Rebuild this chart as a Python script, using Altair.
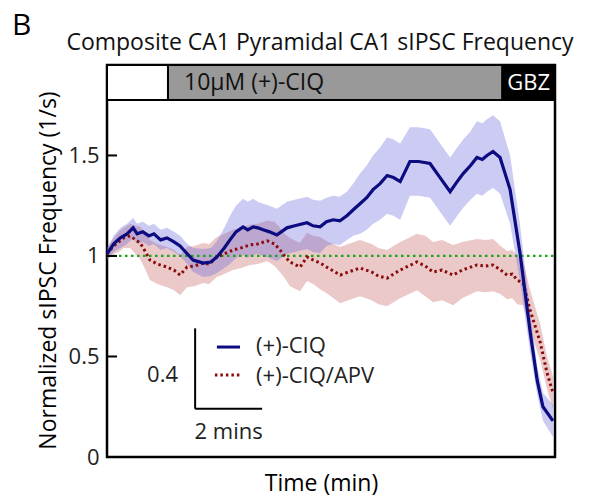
import altair as alt
import pandas as pd

FONT = "Open Sans"

# ---- data ----
ciq_t = [0.0, 0.2, 0.4, 0.6, 0.78, 0.9, 1.07, 1.25, 1.4, 1.6, 1.79, 2.0, 2.18, 2.4, 2.57, 2.87,
         3.1, 3.28, 3.5, 3.67, 3.85, 4.06, 4.2, 4.36, 4.5, 4.66, 4.85, 5.07, 5.2, 5.37, 5.6,
         5.97, 6.15, 6.36, 6.55, 6.75, 6.95, 7.16, 7.35, 7.55, 7.75, 7.94, 8.15, 8.36, 8.55,
         8.75, 9.04, 9.3, 9.64, 9.94, 10.24, 10.45, 10.63, 10.85, 11.04, 11.2, 11.34, 11.52,
         11.73, 12.03, 12.33, 12.63, 12.84, 13.01, 13.31]
ciq_v = [1.01, 1.06, 1.09, 1.11, 1.14, 1.11, 1.12, 1.10, 1.11, 1.08, 1.09, 1.07, 1.05, 1.01, 0.98,
         0.965, 0.97, 0.995, 1.04, 1.08, 1.12, 1.145, 1.13, 1.145, 1.14, 1.13, 1.12, 1.105, 1.12,
         1.14, 1.15, 1.165, 1.15, 1.145, 1.17, 1.18, 1.175, 1.20, 1.23, 1.26, 1.29, 1.33, 1.36,
         1.40, 1.39, 1.37, 1.47, 1.47, 1.46, 1.39, 1.32, 1.37, 1.41, 1.45, 1.49, 1.48, 1.50,
         1.52, 1.49, 1.33, 1.01, 0.62, 0.38, 0.25, 0.18]
ciq_e = [0.03, 0.04, 0.05, 0.05, 0.05, 0.05, 0.05, 0.05, 0.05, 0.05, 0.05, 0.05, 0.05, 0.05,
         0.06, 0.07, 0.07, 0.08, 0.1, 0.12, 0.13, 0.14, 0.14, 0.14, 0.13, 0.13, 0.13, 0.13,
         0.13, 0.13, 0.13, 0.13, 0.13, 0.13, 0.12, 0.12, 0.12, 0.12, 0.13, 0.15, 0.16, 0.17,
         0.18, 0.19, 0.19, 0.19, 0.17, 0.17, 0.17, 0.17, 0.17, 0.17, 0.17, 0.17, 0.18, 0.18,
         0.18, 0.18, 0.18, 0.17, 0.14, 0.10, 0.07, 0.07, 0.08]

apv_t = [0.0, 0.2, 0.35, 0.5, 0.69, 0.85, 0.99, 1.15, 1.28, 1.5, 1.79, 2.0, 2.18, 2.39, 2.6,
         2.87, 3.05, 3.28, 3.5, 3.76, 4.0, 4.27, 4.5, 4.78, 5.0, 5.16, 5.3, 5.46, 5.76, 5.97,
         6.15, 6.36, 6.6, 6.96, 7.2, 7.55, 7.9, 8.1, 8.36, 8.55, 8.75, 9.0, 9.25, 9.5, 9.73,
         10.0, 10.33, 10.6, 11.04, 11.3, 11.52, 11.75, 11.94, 12.1, 12.24, 12.42, 12.63,
         12.93, 13.13, 13.31]
apv_v = [1.01, 1.05, 1.07, 1.09, 1.10, 1.08, 1.065, 1.02, 0.98, 0.96, 0.945, 0.93, 0.905, 0.945,
         0.95, 0.965, 0.96, 0.995, 1.01, 1.03, 1.04, 1.055, 1.06, 1.075, 1.06, 1.03, 1.0, 0.97,
         0.945, 0.995, 0.98, 0.965, 0.94, 0.905, 0.92, 0.94, 0.92, 0.90, 0.89, 0.91, 0.93,
         0.95, 0.97, 0.95, 0.92, 0.93, 0.905, 0.93, 0.955, 0.95, 0.955, 0.93, 0.905, 0.91, 0.88,
         0.865, 0.73, 0.57, 0.42, 0.32]
apv_e = [0.03, 0.04, 0.05, 0.05, 0.06, 0.07, 0.08, 0.09, 0.1, 0.1, 0.1, 0.1, 0.1, 0.1, 0.1,
         0.1, 0.1, 0.1, 0.1, 0.1, 0.1, 0.1, 0.1, 0.1, 0.11, 0.11, 0.11, 0.12, 0.12, 0.12, 0.12,
         0.13, 0.13, 0.14, 0.14, 0.14, 0.14, 0.14, 0.14, 0.14, 0.14, 0.14, 0.14, 0.15, 0.15,
         0.15, 0.15, 0.14, 0.13, 0.13, 0.13, 0.12, 0.12, 0.12, 0.12, 0.11, 0.1, 0.09, 0.08, 0.08]

y_ticks = [0, 0.5, 1, 1.5]

bar_labels = ["", "10μM (+)-CIQ", "GBZ"]
bar_start = [0.0, 1.82, 11.8]
bar_end = [1.82, 11.8, 13.37]
bar_fill = ["white", "#999999", "black"]

series_names = ["(+)-CIQ", "(+)-CIQ/APV"]
title_text = "Composite CA1 Pyramidal CA1 sIPSC Frequency"
panel_letter = "B"

X_DOMAIN = [0, 13.37]
Y_DOMAIN = [0, 1.95]
BAR_LO, BAR_HI = 1.776, 1.95

ciq = pd.DataFrame({"t": ciq_t, "v": ciq_v, "e": ciq_e})
ciq["lo"] = ciq["v"] - ciq["e"]
ciq["hi"] = ciq["v"] + ciq["e"]
apv = pd.DataFrame({"t": apv_t, "v": apv_v, "e": apv_e})
apv["lo"] = apv["v"] - apv["e"]
apv["hi"] = apv["v"] + apv["e"]

xs = alt.Scale(domain=X_DOMAIN, nice=False, zero=False)
ys = alt.Scale(domain=Y_DOMAIN, nice=False, zero=False)

X = alt.X("t:Q", scale=xs, axis=alt.Axis(title="Time (min)", labels=False, ticks=False,
                                           domain=False, grid=False, titleFont=FONT,
                                           titleFontSize=23, titleFontWeight="normal",
                                           titleColor="black", titleY=26, titleX=214,
                                           titleAlign="center", titleBaseline="middle"))
Y = alt.Y("v:Q", scale=ys, axis=alt.Axis(title="Normalized sIPSC Frequency (1/s)",
                                           values=y_ticks, format="~g", ticks=False,
                                           domain=False, grid=False, labelFont=FONT,
                                           labelFontSize=22, labelColor="#222", labelPadding=8,
                                           titleFont=FONT, titleFontSize=23,
                                           titleFontWeight="normal", titleColor="black",
                                           titleX=-59, titleY=205, titleAngle=270,
                                           titleAlign="center", titleBaseline="middle"))

base_ciq = alt.Chart(ciq)
base_apv = alt.Chart(apv)

apv_band = base_apv.mark_area(color="#c25b5b", opacity=0.33).encode(
    x=alt.X("t:Q", scale=xs), y=alt.Y("lo:Q", scale=ys), y2="hi:Q")
ciq_band = base_ciq.mark_area(color="#6262dc", opacity=0.33).encode(
    x=alt.X("t:Q", scale=xs), y=alt.Y("lo:Q", scale=ys), y2="hi:Q")

green = alt.Chart(pd.DataFrame({"y": [1.0]})).mark_rule(
    color="#1aa61a", strokeWidth=2.2, strokeDash=[2.5, 3.5]).encode(
    y=alt.Y("y:Q", scale=ys), x=alt.value(0), x2=alt.value(448))

apv_line = base_apv.mark_line(color="#8b0a0a", strokeWidth=3, strokeDash=[2.5, 3]).encode(
    x=alt.X("t:Q", scale=xs), y=alt.Y("v:Q", scale=ys))
ciq_line = base_ciq.mark_line(color="#0c0c80", strokeWidth=3.2).encode(x=X, y=Y)

# tick marks drawn inside the plot
ticks = alt.Chart(pd.DataFrame({"y": y_ticks})).mark_rule(color="black", strokeWidth=2).encode(
    y=alt.Y("y:Q", scale=ys), x=alt.value(0), x2=alt.value(10))

# top treatment bar
bars_df = pd.DataFrame({"a": bar_start, "b": bar_end, "label": bar_labels,
                        "fill": bar_fill,
                        "lo": [BAR_LO] * 3, "hi": [BAR_HI] * 3})
bars = alt.Chart(bars_df).mark_rect(stroke="black", strokeWidth=2).encode(
    x=alt.X("a:Q", scale=xs), x2="b:Q", y=alt.Y("lo:Q", scale=ys), y2="hi:Q",
    fill=alt.Fill("fill:N", scale=None))
ciq_txt = alt.Chart(bars_df.iloc[[1]]).mark_text(
    align="left", baseline="middle", font=FONT, fontSize=23, dx=16, color="#111").encode(
    x=alt.X("a:Q", scale=xs), y=alt.value(18), text="label:N")
gbz_txt = alt.Chart(bars_df.iloc[[2]]).mark_text(
    align="center", baseline="middle", font=FONT, fontSize=22, color="white").encode(
    x=alt.X("mid:Q", scale=xs), y=alt.value(18), text="label:N").transform_calculate(
    mid="(datum.a + datum.b) / 2")

# scale bar
sb_x0, sb_x1 = 2.63, 4.63
sb_y0, sb_y1 = 0.24, 0.64
sb_v = alt.Chart(pd.DataFrame({"x": [sb_x0], "y": [sb_y0], "y2": [sb_y1]})).mark_rule(
    color="black", strokeWidth=2).encode(x=alt.X("x:Q", scale=xs), y=alt.Y("y:Q", scale=ys), y2="y2:Q")
sb_h = alt.Chart(pd.DataFrame({"x": [sb_x0], "x2": [sb_x1], "y": [sb_y0]})).mark_rule(
    color="black", strokeWidth=2).encode(x=alt.X("x:Q", scale=xs), x2="x2:Q", y=alt.Y("y:Q", scale=ys))
sb_txt0 = alt.Chart(pd.DataFrame({"x": [2.12], "y": [0.41], "label": ["0.4"]})).mark_text(
    font=FONT, fontSize=22, baseline="middle", align="right", color="#222").encode(
    x=alt.X("x:Q", scale=xs), y=alt.Y("y:Q", scale=ys), text="label:N")
sb_txt1 = alt.Chart(pd.DataFrame({"x": [3.63], "y": [0.125], "label": ["2 mins"]})).mark_text(
    font=FONT, fontSize=22, baseline="middle", align="center", color="#222").encode(
    x=alt.X("x:Q", scale=xs), y=alt.Y("y:Q", scale=ys), text="label:N")

# manual legend
leg_ciq = alt.Chart(pd.DataFrame({"x": [3.28], "x2": [3.97], "y": [0.547]})).mark_rule(
    color="#0c0c80", strokeWidth=3).encode(x=alt.X("x:Q", scale=xs), x2="x2:Q", y=alt.Y("y:Q", scale=ys))
leg_apv = alt.Chart(pd.DataFrame({"x": [3.22], "x2": [3.97], "y": [0.408]})).mark_rule(
    color="#8b0a0a", strokeWidth=3, strokeDash=[2.5, 3]).encode(
    x=alt.X("x:Q", scale=xs), x2="x2:Q", y=alt.Y("y:Q", scale=ys))
leg_txt = alt.Chart(pd.DataFrame({"x": [4.45, 4.45], "y": [0.55, 0.405],
                                  "label": series_names})).mark_text(
    font=FONT, fontSize=22, baseline="middle", align="left", color="#222").encode(
    x=alt.X("x:Q", scale=xs), y=alt.Y("y:Q", scale=ys), text="label:N")

# title and panel letter
title = alt.Chart(pd.DataFrame({"label": [title_text]})).mark_text(
    font=FONT, fontSize=23, align="center", baseline="middle", color="#111").encode(
    x=alt.value(213), y=alt.value(-22), text="label:N")
letter = alt.Chart(pd.DataFrame({"label": [panel_letter]})).mark_text(
    font=FONT, fontSize=30, align="left", baseline="middle", color="black").encode(
    x=alt.value(-95), y=alt.value(-39), text="label:N")

chart = alt.layer(
    apv_band, ciq_band, green, apv_line, ciq_line, ticks, bars, ciq_txt, gbz_txt,
    sb_v, sb_h, sb_txt0, sb_txt1, leg_ciq, leg_apv, leg_txt, title, letter
).properties(
    width=448, height=392,
    autosize=alt.AutoSizeParams(type="none"),
    padding={"left": 99, "top": 57, "right": 35, "bottom": 44},
).configure(background="white").configure_view(stroke="black", strokeWidth=2.5)

chart.save("out.html", embed_options={"renderer": "svg", "actions": False})
